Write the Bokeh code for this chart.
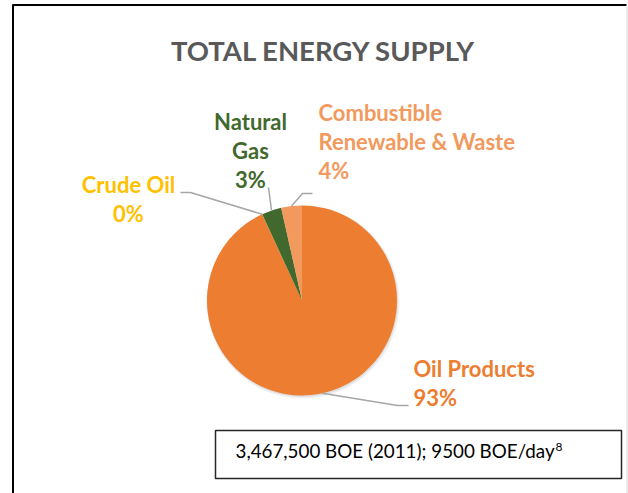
import math
from bokeh.plotting import figure
from bokeh.models import Range1d
from bokeh.core.properties import value
from bokeh.embed import file_html
from bokeh.resources import INLINE

# ---- data ----
categories = ["Oil Products", "Crude Oil", "Natural Gas", "Combustible Renewable & Waste"]
shares = [93.09, 0.04, 3.35, 3.52]
colors = ["#ED7D31", "#FFC000", "#41692D", "#F2995E"]
label_colors = ["#ED7D31", "#FFC000", "#41692D", "#F2995E"]
label_lines = [["Oil Products"], ["Crude Oil"], ["Natural", "Gas"], ["Combustible", "Renewable & Waste"]]
title = "TOTAL ENERGY SUPPLY"
note_text = "3,467,500 BOE (2011); 9500 BOE/day"
note_sup = "8"

# ---- layout (page pixel coordinates) ----
W, H = 628, 493
def Y(py):
    return H - py

def TY(py, size):
    # baseline position corrected for renderer's text offset
    return H - (py - 0.36 * size)

CX, CY, R = 301.5, 300.0, 95.0
FONT = "Lato"

p = figure(width=W, height=H, output_backend="svg", toolbar_location=None,
           x_range=Range1d(0, W), y_range=Range1d(0, H),
           x_axis_type=None, y_axis_type=None, min_border=0)
p.outline_line_color = None
p.grid.visible = False
p.background_fill_color = "white"
p.border_fill_color = "white"

# chart border
p.line(x=[12.5, 12.5], y=[Y(493), Y(4)], line_color="black", line_width=2)
p.line(x=[12, 626], y=[Y(4.5), Y(4.5)], line_color="black", line_width=2)
p.line(x=[626.5, 626.5], y=[Y(5), Y(493)], line_color="#D9D9D9", line_width=1)

# title
TS = 27.5
p.text(x=[323], y=[TY(60, TS)], text=[title], text_font=value(FONT), text_font_style="bold",
       text_font_size="%spx" % TS, text_color="#595959", text_align="center", text_baseline="alphabetic")

# pie shadow
p.circle(x=[CX + 1.0], y=[Y(CY + 1.5)], radius=R + 1.5, fill_color="black", fill_alpha=0.06, line_color=None)
p.circle(x=[CX + 0.5], y=[Y(CY + 1.0)], radius=R + 0.5, fill_color="black", fill_alpha=0.08, line_color=None)

# pie wedges (clockwise from 12 o'clock)
total = sum(shares)
cum = 0.0
starts, ends, mids = [], [], []
for s in shares:
    a0 = math.pi / 2 - 2 * math.pi * cum / total
    a1 = math.pi / 2 - 2 * math.pi * (cum + s) / total
    starts.append(a0)
    ends.append(a1)
    mids.append((a0 + a1) / 2)
    cum += s
p.wedge(x=CX, y=Y(CY), radius=R, start_angle=starts, end_angle=ends, direction="clock",
        fill_color=colors, line_color=None)

# leader lines: from slice edge midpoint to elbow and end
elbows = {"Oil Products": [(397, 405), (408, 405)],
          "Crude Oil": [(190, 192), (180, 192)],
          "Natural Gas": [(268, 187)],
          "Combustible Renewable & Waste": [(302, 193), (312, 193)]}
xs, ys = [], []
for cat, m in zip(categories, mids):
    px0 = CX + R * math.cos(m)
    py0 = Y(CY) + R * math.sin(m)
    lx = [px0] + [e[0] for e in elbows[cat]]
    ly = [py0] + [Y(e[1]) for e in elbows[cat]]
    xs.append(lx)
    ys.append(ly)
p.multi_line(xs=xs, ys=ys, line_color="#A6A6A6", line_width=1.5)

# data labels
label_pos = {"Oil Products": (413, 376, "left"),
             "Crude Oil": (128, 192, "center"),
             "Natural Gas": (250, 129, "center"),
             "Combustible Renewable & Waste": (318, 120, "left")}
LH = 29
LS = 22
for cat, s, lines, col in zip(categories, shares, label_lines, label_colors):
    lx, ly, al = label_pos[cat]
    all_lines = lines + ["%d%%" % round(s)]
    p.text(x=[lx] * len(all_lines), y=[TY(ly + i * LH, LS) for i in range(len(all_lines))],
           text=all_lines, text_font=value(FONT), text_font_style="bold", text_font_size="%spx" % LS,
           text_color=col, text_align=al, text_baseline="alphabetic")

# note box
p.quad(left=215, right=621, top=Y(430), bottom=Y(478), fill_color="white",
       line_color="#262626", line_width=1.5)
NS = 18.8
p.text(x=[235], y=[TY(457, NS)], text=[note_text], text_font=value(FONT), text_font_size="%spx" % NS,
       text_color="black", text_align="left", text_baseline="alphabetic")
p.text(x=[555], y=[TY(451, 12)], text=[note_sup], text_font=value(FONT), text_font_size="12px",
       text_color="black", text_align="left", text_baseline="alphabetic")

open("out.html", "w").write(file_html(p, INLINE))
